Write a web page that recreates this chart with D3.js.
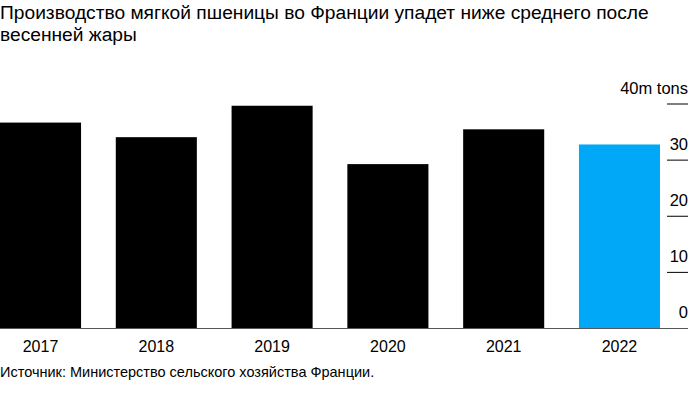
<!DOCTYPE html>
<html>
<head>
<meta charset="utf-8">
<script src="https://cdn.jsdelivr.net/npm/d3@7"></script>
<style>
  body { margin:0; background:#fff; }
  svg text { font-family: "Liberation Sans", Arial, sans-serif; fill:#000; }
</style>
</head>
<body>
<svg id="chart" width="695" height="394"></svg>
<script>
var years = ["2017","2018","2019","2020","2021","2022"];
var production = [36.6, 34.0, 39.6, 29.2, 35.4, 32.7];
var yTicks = [0, 10, 20, 30, 40];
var titleLines = ["Производство мягкой пшеницы во Франции упадет ниже среднего после", "весенней жары"];
var sourceText = "Источник: Министерство сельского хозяйства Франции.";

var svg = d3.select("#chart");

var x = d3.scaleBand().domain(years).range([0, 660]).paddingInner(0.3).paddingOuter(0);
var y = d3.scaleLinear().domain([0, 40]).range([328, 103.5]);

// title
svg.selectAll(".title").data(titleLines).enter().append("text")
    .attr("class","title")
    .attr("x", 0)
    .attr("y", function(d,i){ return 19 + i*22; })
    .style("font-size","19.2px")
    .text(function(d){ return d; });

// bars
svg.selectAll(".bar").data(years).enter().append("rect")
    .attr("class","bar")
    .attr("x", function(d){ return x(d); })
    .attr("width", x.bandwidth())
    .attr("y", function(d,i){ return y(production[i]); })
    .attr("height", function(d,i){ return y(0) - y(production[i]); })
    .attr("fill", function(d){ return d == "2022" ? "#00a8f7" : "#000"; });

// y axis ticks on the right
var yAxis = d3.axisRight(y).tickValues(yTicks).tickSize(0).tickFormat("");
var ga = svg.append("g").attr("transform","translate(667,0)").call(yAxis);
ga.select(".domain").remove();
ga.selectAll(".tick").append("line")
    .attr("x1",0).attr("x2",21)
    .attr("stroke", function(d){ return d == 0 ? "none" : "#000"; })
    .attr("stroke-width",1);
ga.selectAll(".tick").append("text")
    .attr("x",21).attr("y",-10.5)
    .attr("text-anchor","end")
    .style("font-size","16.5px")
    .text(function(d){ return d == 40 ? "40m tons" : d; });

// baseline
svg.append("line")
    .attr("x1",0).attr("x2",688)
    .attr("y1",y(0)+0.5).attr("y2",y(0)+0.5)
    .attr("stroke","#555").attr("stroke-width",1);

// year labels
svg.selectAll(".year").data(years).enter().append("text")
    .attr("class","year")
    .attr("x", function(d){ return x(d) + x.bandwidth()/2; })
    .attr("y", 352)
    .attr("text-anchor","middle")
    .style("font-size","16px")
    .text(function(d){ return d; });

// source
svg.append("text")
    .attr("x",0).attr("y",377)
    .style("font-size","14.5px")
    .text(sourceText);
</script>
</body>
</html>
